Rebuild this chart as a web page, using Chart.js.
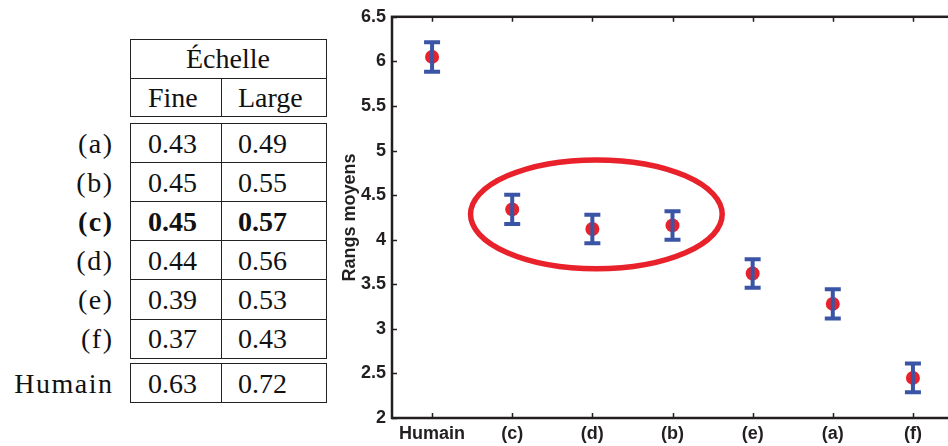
<!DOCTYPE html>
<html>
<head>
<meta charset="utf-8">
<script src="https://cdn.jsdelivr.net/npm/chart.js@4/dist/chart.umd.min.js"></script>
<style>
  html, body { margin: 0; padding: 0; background: #fff; overflow: hidden; }
  body { width: 948px; height: 446px; position: relative; }
  #tbl { position: absolute; left: 0; top: 0; width: 340px; height: 446px; font-family: "Liberation Serif", serif; font-size: 28px; color: #111; }
  .box { position: absolute; border: 1px solid #222; box-sizing: border-box; }
  .hl { position: absolute; height: 0; border-top: 1px solid #222; }
  .vl { position: absolute; width: 0; border-left: 1px solid #222; }
  .t { position: absolute; line-height: 1; white-space: nowrap; }
  .lab { letter-spacing: 1.5px; }
  #wrap { position: absolute; left: 330px; top: 0; width: 630px; height: 446px; }
</style>
</head>
<body>
<div id="tbl"></div>
<div id="wrap"><canvas id="chart" width="630" height="446"></canvas></div>
<script>
// table values
const rowLabels = ['(a)', '(b)', '(c)', '(d)', '(e)', '(f)'];
const fineScores = ['0.43', '0.45', '0.45', '0.44', '0.39', '0.37'];
const largeScores = ['0.49', '0.55', '0.57', '0.56', '0.53', '0.43'];
const boldRow = '(c)';
const humanLabel = 'Humain';
const humanFine = '0.63';
const humanLarge = '0.72';

// chart values
const categories = ['Humain', '(c)', '(d)', '(b)', '(e)', '(a)', '(f)'];
const meanRanks = [6.05, 4.34, 4.12, 4.16, 3.62, 3.28, 2.45];
const errors = [0.165, 0.165, 0.16, 0.16, 0.16, 0.165, 0.16];
const yRange = [2, 6.5];
// highlight ellipse, in data units (category index, rank)
const highlight = { x: 2.05, y: 4.285, rx: 1.57, ry: 0.61 };

// ---- table ----
const tbl = document.getElementById('tbl');
function add(cls, css, text) {
    const d = document.createElement('div');
    d.className = cls;
    Object.assign(d.style, css);
    if (text !== undefined) d.textContent = text;
    tbl.appendChild(d);
    return d;
}
const L = 129.5, M = 221, R = 326.5;
function cellText(text, x, cy, bold) {
    const d = add('t', { left: x + 'px', top: (cy - 14) + 'px' }, text);
    if (bold) d.style.fontWeight = 'bold';
}
function labelText(text, cy, bold) {
    const d = add('t lab', { right: (340 - 113.5) + 'px', top: (cy - 14) + 'px' }, text);
    if (bold) d.style.fontWeight = 'bold';
}
// header box
add('box', { left: L + 'px', top: '39px', width: (R - L) + 'px', height: '78px' });
add('hl', { left: L + 'px', top: '78px', width: (R - L) + 'px' });
add('vl', { left: M + 'px', top: '78px', height: '39px' });
add('t', { left: L + 'px', width: (R - L) + 'px', textAlign: 'center', top: '45px' }, 'Échelle');
cellText('Fine', 148, 98);
cellText('Large', 238, 98);
// data box
const top0 = 123, rowH = 39.1;
add('box', { left: L + 'px', top: top0 + 'px', width: (R - L) + 'px', height: (rowH * 6 + 1) + 'px' });
add('vl', { left: M + 'px', top: top0 + 'px', height: (rowH * 6) + 'px' });
rowLabels.forEach((lab, i) => {
    if (i > 0) add('hl', { left: L + 'px', top: (top0 + rowH * i) + 'px', width: (R - L) + 'px' });
    const cy = top0 + rowH * (i + 0.5) + 1;
    const b = lab === boldRow;
    labelText(lab, cy, b);
    cellText(fineScores[i], 148, cy, b);
    cellText(largeScores[i], 238, cy, b);
});
// human box
add('box', { left: L + 'px', top: '363px', width: (R - L) + 'px', height: '40px' });
add('vl', { left: M + 'px', top: '363px', height: '40px' });
labelText(humanLabel, 384);
cellText(humanFine, 148, 384);
cellText(humanLarge, 238, 384);

// ---- chart ----
const AXIS = '#231f20';
const RED = '#e8212b';
const BLUE = '#3a54a6';

const framePlugin = {
    id: 'frame',
    afterDatasetsDraw(chart) {
        const { ctx, chartArea: a, scales: { x, y } } = chart;
        ctx.save();
        // error bars over the dots
        ctx.strokeStyle = BLUE;
        ctx.lineWidth = 4;
        meanRanks.forEach((m, i) => {
            const px = x.getPixelForValue(i);
            const yt = y.getPixelForValue(m + errors[i]);
            const yb = y.getPixelForValue(m - errors[i]);
            ctx.beginPath();
            ctx.moveTo(px, yt); ctx.lineTo(px, yb);
            ctx.moveTo(px - 8, yt); ctx.lineTo(px + 8, yt);
            ctx.moveTo(px - 8, yb); ctx.lineTo(px + 8, yb);
            ctx.stroke();
        });
        // ellipse
        const cx = x.getPixelForValue(highlight.x);
        const cy = y.getPixelForValue(highlight.y);
        const rx = x.getPixelForValue(highlight.x + highlight.rx) - cx;
        const ry = cy - y.getPixelForValue(highlight.y + highlight.ry);
        ctx.strokeStyle = RED;
        ctx.lineWidth = 5.5;
        ctx.beginPath();
        ctx.ellipse(cx, cy, rx, ry, 0, 0, Math.PI * 2);
        ctx.stroke();
        // box and inward ticks
        ctx.strokeStyle = AXIS;
        ctx.lineWidth = 1.5;
        ctx.beginPath();
        categories.forEach((c, i) => {
            const px = Math.round(x.getPixelForValue(i)) + 0.5;
            ctx.moveTo(px, a.top); ctx.lineTo(px, a.top + 5);
            ctx.moveTo(px, a.bottom); ctx.lineTo(px, a.bottom - 5);
        });
        y.ticks.forEach(t => {
            const py = Math.round(y.getPixelForValue(t.value)) + 0.5;
            ctx.moveTo(a.left, py); ctx.lineTo(a.left + 5, py);
            ctx.moveTo(a.right, py); ctx.lineTo(a.right - 5, py);
        });
        ctx.stroke();
        ctx.lineWidth = 2.5;
        ctx.strokeRect(a.left, a.top, a.right - a.left, a.bottom - a.top);
        ctx.restore();
    }
};

new Chart(document.getElementById('chart'), {
    type: 'line',
    data: {
        labels: categories,
        datasets: [{
            data: meanRanks,
            showLine: false,
            pointRadius: 7,
            pointHoverRadius: 7,
            pointBackgroundColor: RED,
            pointBorderWidth: 0
        }]
    },
    options: {
        responsive: false,
        animation: false,
        events: [],
        layout: { padding: { top: 13, right: 4.5, left: 0, bottom: 0 } },
        plugins: { legend: { display: false }, tooltip: { enabled: false } },
        scales: {
            x: {
                offset: true,
                grid: { display: false, drawTicks: false, tickLength: 0 },
                border: { display: false },
                ticks: { color: AXIS, font: { family: 'Liberation Sans', size: 18, weight: 'bold' }, padding: 5, maxRotation: 0, autoSkip: false },
                afterFit(s) { s.height = 28; }
            },
            y: {
                min: yRange[0],
                max: yRange[1],
                grid: { display: false, drawTicks: false, tickLength: 0 },
                border: { display: false },
                ticks: {
                    stepSize: 0.5, color: AXIS, padding: 6,
                    font: { family: 'Liberation Sans', size: 18, weight: 'bold' },
                    callback: v => String(v)
                },
                title: { display: true, text: 'Rangs moyens', color: AXIS, font: { family: 'Liberation Sans', size: 18, weight: 'bold' }, padding: { top: 9, bottom: 0 } },
                afterFit(s) { s.width = 62; }
            }
        }
    },
    plugins: [framePlugin]
});
</script>
</body>
</html>
